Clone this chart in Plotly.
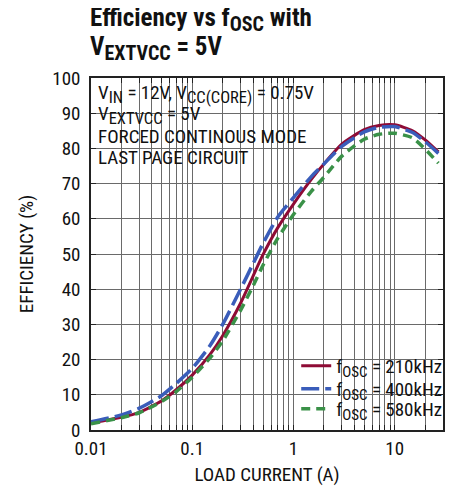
import plotly.graph_objects as go

# ---- data ----
load_current = [0.01, 0.02, 0.03, 0.05, 0.07, 0.1, 0.15, 0.2, 0.3, 0.4, 0.5, 0.7,
                1, 1.5, 2, 3, 5, 7, 10, 15, 20, 27]
eff_210k = [2.0, 3.6, 5.0, 8.3, 11.5, 15.6, 21.5, 26.8, 36.0, 43.8, 49.8, 57.5,
            64.2, 71.2, 75.6, 81.2, 85.3, 86.5, 86.7, 85.0, 82.4, 79.0]
eff_400k = [2.3, 4.3, 6.2, 9.8, 13.3, 17.5, 24.0, 30.0, 40.0, 47.3, 53.0, 60.5,
            66.0, 72.0, 75.6, 80.6, 84.7, 86.0, 86.2, 84.5, 81.9, 78.6]
eff_580k = [1.8, 3.5, 4.9, 8.1, 11.0, 15.0, 20.5, 25.3, 34.0, 41.0, 46.8, 54.5,
            61.2, 67.8, 71.8, 77.8, 82.6, 84.0, 84.3, 83.0, 79.8, 75.8]


def sub(txt, px=15):
    return f'<sub><span style="font-size:{px}px">{txt}</span></sub>'


series_names = [f"f{sub('OSC')} = 210kHz", f"f{sub('OSC')} = 400kHz", f"f{sub('OSC')} = 580kHz"]
series_colors = ["#8e0b35", "#3a5dba", "#3a9148"]
series_dash = ["solid", "18px,6px", "9px,6px"]
series_width = [3, 3.5, 3.5]

x_tickvals = [m * 10 ** e for e in (-2, -1, 0, 1) for m in range(1, 10) if m * 10 ** e <= 30]
x_ticktext = [{0.01: "0.01", 0.1: "0.1", 1: "1", 10: "10"}.get(v, "") for v in x_tickvals]
y_tickvals = list(range(0, 101, 10))

title_lines = [f"<b>Efficiency vs f{sub('OSC', 20)} with</b>", f"<b>V{sub('EXTVCC', 20)} = 5V</b>"]
note_lines = [f"V{sub('IN', 16.5)} = 12V, V{sub('CC(CORE)', 16.5)} = 0.75V",
              f"V{sub('EXTVCC', 16.5)} = 5V",
              "FORCED CONTINOUS MODE",
              "LAST PAGE CIRCUIT"]

FONT = "Roboto Condensed, Liberation Sans Narrow, Arial Narrow, sans-serif"
FS = 19

# figure geometry (page body adds an 8px offset)
W, H = 446, 481
ML, MR, MT, MB = 83, 11, 70, 59
PH = H - MT - MB


def py(fig_y):
    """figure-pixel y -> paper y"""
    return (H - MB - fig_y) / PH


legend_ids = ["legend", "legend2", "legend3"]
legend_rows = [358, 381, 401]   # figure-pixel y of each legend row

fig = go.Figure()
for y, name, col, dash, w, lg in zip([eff_210k, eff_400k, eff_580k], series_names,
                                     series_colors, series_dash, series_width, legend_ids):
    fig.add_trace(go.Scatter(
        x=load_current, y=y, mode="lines", name=name, legend=lg,
        line=dict(color=col, width=w, dash=dash, shape="spline", smoothing=0.6),
    ))

# white boxes behind annotation and legend (hide grid, keep ticks)
fig.add_shape(type="rect", xref="paper", yref="paper", x0=0, x1=0.65, y0=0.733, y1=1,
              fillcolor="white", line=dict(width=0), layer="between")
fig.add_shape(type="rect", xref="paper", yref="paper", x0=0.548, x1=1, y0=0, y1=0.233,
              fillcolor="white", line=dict(width=0), layer="between")

# title (two lines)
for i, t in enumerate(title_lines):
    fig.add_annotation(
        xref="paper", yref="paper", x=-0.008, y=py(12 + 28 * i),
        xanchor="left", yanchor="middle", showarrow=False, text=t,
        font=dict(family=FONT, size=25, color="#111"),
    )

# condition note (four lines)
for i, t in enumerate(note_lines):
    fig.add_annotation(
        xref="paper", yref="paper", x=0.015, y=py(85.5 + 21.3 * i),
        xanchor="left", yanchor="middle", showarrow=False, text=t,
        font=dict(family=FONT, size=FS, color="#111"),
    )

legend_common = dict(xanchor="left", yanchor="middle", bgcolor="rgba(0,0,0,0)",
                     borderwidth=0, font=dict(family=FONT, size=FS, color="#111"))

fig.update_layout(
    width=W, height=H,
    margin=dict(l=ML, r=MR, t=MT, b=MB, autoexpand=False),
    paper_bgcolor="white", plot_bgcolor="white",
    font=dict(family=FONT, size=FS, color="#111"),
    showlegend=True,
    legend=dict(x=0.583, y=py(legend_rows[0]), **legend_common),
    legend2=dict(x=0.583, y=py(legend_rows[1]), **legend_common),
    legend3=dict(x=0.583, y=py(legend_rows[2]), **legend_common),
    xaxis=dict(
        type="log", range=[-2, 1.477], automargin=False,
        tickvals=x_tickvals, ticktext=x_ticktext,
        ticks="inside", ticklen=5, tickcolor="#222", tickwidth=1,
        showline=True, linecolor="#222", linewidth=1.5, mirror="allticks",
        showgrid=True, gridcolor="#6a6a6a", gridwidth=1.3,
        title=dict(text="LOAD CURRENT (A)", font=dict(family=FONT, size=FS), standoff=9),
        tickfont=dict(family=FONT, size=FS),
        zeroline=False,
    ),
    yaxis=dict(
        range=[0, 100], tickvals=y_tickvals, automargin=False,
        ticks="inside", ticklen=5, tickcolor="#222", tickwidth=1,
        showline=True, linecolor="#222", linewidth=1.5, mirror="allticks",
        showgrid=True, gridcolor="#6a6a6a", gridwidth=1.3,
        title=dict(text="EFFICIENCY (%)", font=dict(family=FONT, size=FS), standoff=14),
        tickfont=dict(family=FONT, size=FS), ticklabelstandoff=5,
        zeroline=False,
    ),
)

fig.write_html("out.html")
